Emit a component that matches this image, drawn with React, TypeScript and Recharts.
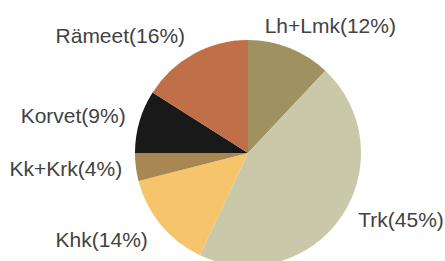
import React from 'react';
import { PieChart, Pie, Cell } from 'recharts';

const categories = ['Lh+Lmk', 'Trk', 'Khk', 'Kk+Krk', 'Korvet', 'Rämeet'];
const shares = [12, 45, 14, 4, 9, 16];
const colors = ['#a09260', '#c9c8a9', '#f6c46b', '#a98753', '#191919', '#c06f49'];
// small per-label nudges relative to the radial label anchor
const labelNudgeX = [-36, -8, 10, 16, 15, 6];
const labelNudgeY = [13, -6, 3, 5, 10, 15];
const labelAnchor = ['start', 'start', 'end', 'end', 'end', 'end'];

const data = categories.map((name, i) => ({ name, value: shares[i] }));

const RAD = Math.PI / 180;

const renderLabel = (props: any) => {
  const { cx, cy, midAngle, outerRadius, index } = props;
  const r = outerRadius + 30;
  const x = cx + r * Math.cos(-midAngle * RAD) + labelNudgeX[index];
  const y = cy + r * Math.sin(-midAngle * RAD) + labelNudgeY[index];
  return (
    <text
      x={x}
      y={y}
      textAnchor={labelAnchor[index] as any}
      fill="#424242"
      fontSize={21}
      fontFamily="'Liberation Sans', Arial, sans-serif"
    >
      {`${categories[index]}(${shares[index]}%)`}
    </text>
  );
};

export default function App() {
  return (
    <div style={{ position: 'absolute', left: 0, top: 0, width: 445, height: 261, background: '#ffffff', overflow: 'hidden' }}>
      <PieChart width={445} height={261} margin={{ top: 0, right: 0, bottom: 0, left: 0 }}>
        <Pie
          data={data}
          dataKey="value"
          nameKey="name"
          cx={248}
          cy={153}
          outerRadius={113}
          startAngle={90}
          endAngle={-270}
          stroke="none"
          labelLine={false}
          label={renderLabel}
          isAnimationActive={false}
        >
          {data.map((d, i) => (
            <Cell key={d.name} fill={colors[i]} />
          ))}
        </Pie>
      </PieChart>
    </div>
  );
}
